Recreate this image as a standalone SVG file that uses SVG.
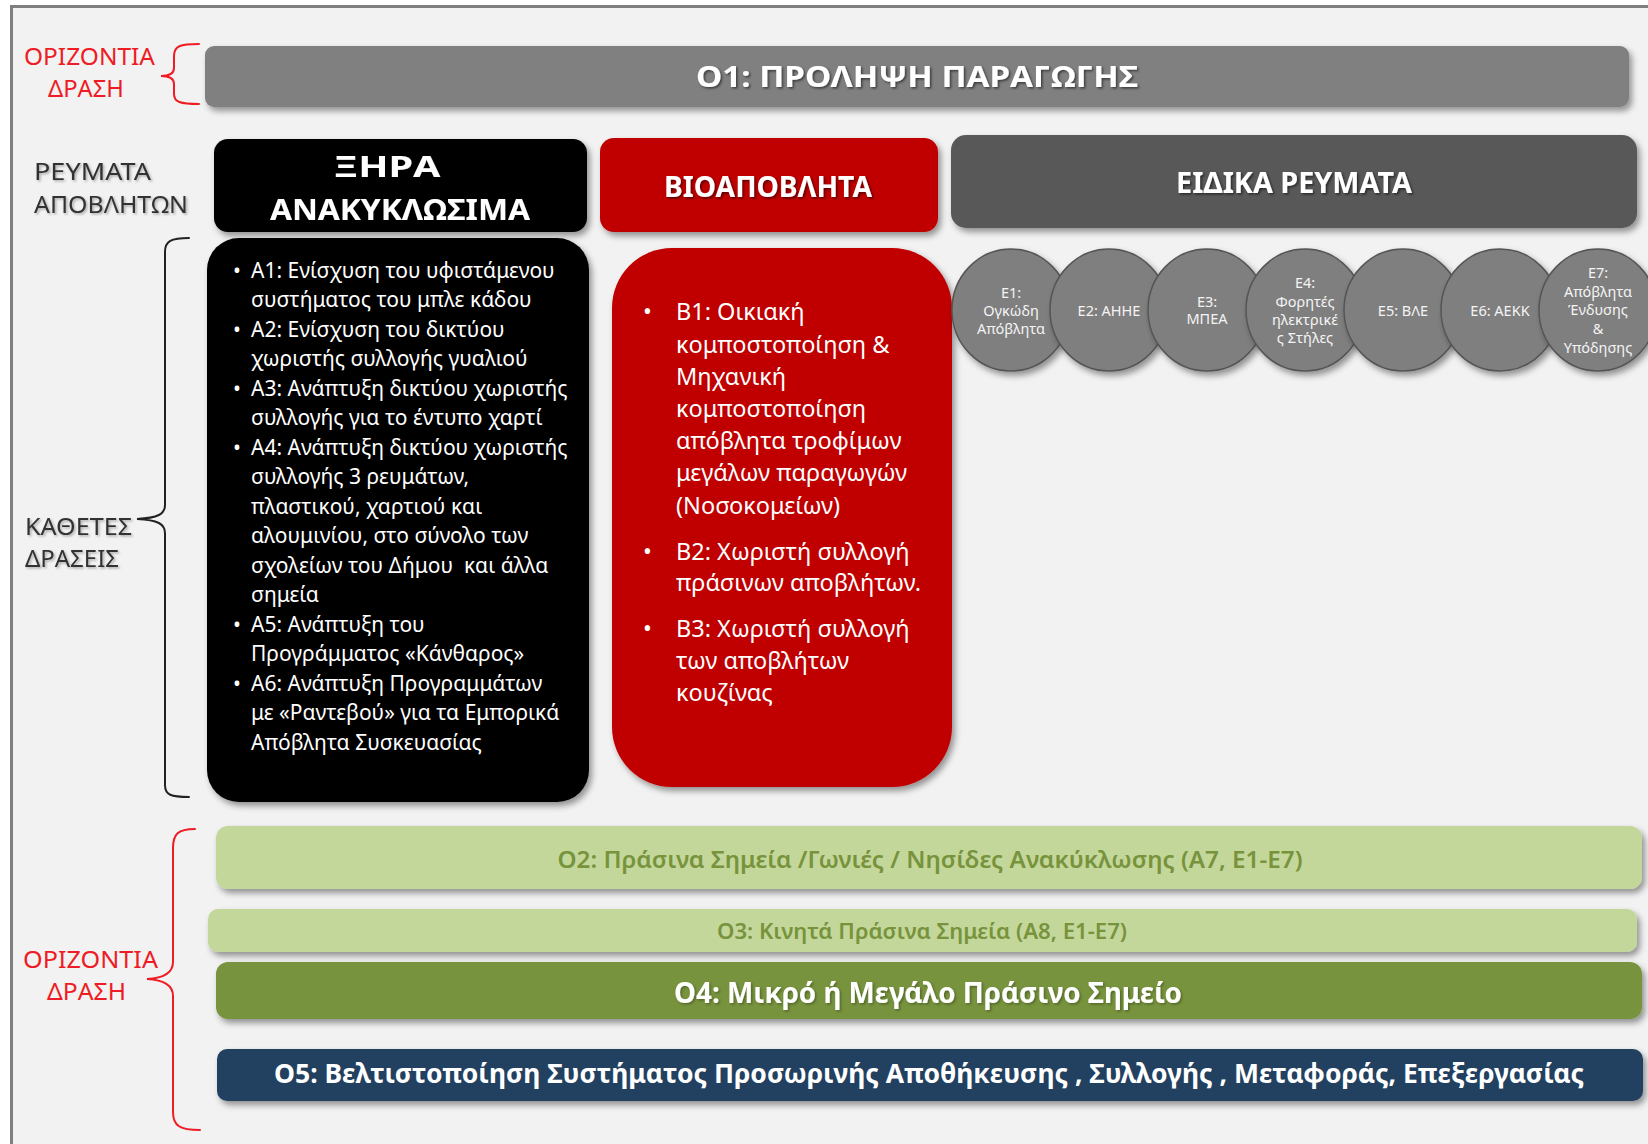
<svg xmlns="http://www.w3.org/2000/svg" width="1648" height="1144" viewBox="0 0 1648 1144">
<defs>
<filter id="sh" x="-10%" y="-20%" width="120%" height="150%">
<feDropShadow dx="3" dy="4" stdDeviation="3" flood-color="#000" flood-opacity="0.4"/>
</filter>
<filter id="tsh" x="-5%" y="-30%" width="110%" height="160%">
<feDropShadow dx="1.5" dy="1.5" stdDeviation="1" flood-color="#000" flood-opacity="0.55"/>
</filter>
<filter id="lsh" x="-5%" y="-30%" width="110%" height="160%">
<feDropShadow dx="1.5" dy="1.5" stdDeviation="1" flood-color="#000" flood-opacity="0.3"/>
</filter>
<style>
text{font-family:"Noto Sans","Open Sans","DejaVu Sans",sans-serif}
.side{font-size:24px;fill:#ee1c25}
.dark{font-size:24px;fill:#333;filter:url(#lsh)}
.head{font-size:29px;font-weight:bold;fill:#fff;text-anchor:middle;filter:url(#tsh)}
.body{font-size:21px;fill:#fff}
.bodyb{font-size:23.5px;fill:#fff}
.circ{font-size:14.5px;fill:#f4f4f4;text-anchor:middle}
.bar{text-anchor:middle}
.brace{fill:none;stroke-width:2;stroke-linecap:round}
</style>
</defs>
<rect x="0" y="0" width="1648" height="1144" fill="#fff"/>
<rect x="11.5" y="6.5" width="1700" height="1200" fill="#f2f2f2" stroke="#7f7f7f" stroke-width="3"/>

<g id="labels">
<text class="side" x="24" y="65" textLength="131" lengthAdjust="spacingAndGlyphs">ΟΡΙΖΟΝΤΙΑ</text>
<text class="side" x="48" y="97" textLength="76" lengthAdjust="spacingAndGlyphs">ΔΡΑΣΗ</text>
<text class="dark" x="34" y="180" textLength="117" lengthAdjust="spacingAndGlyphs">ΡΕΥΜΑΤΑ</text>
<text class="dark" x="34" y="213" textLength="154" lengthAdjust="spacingAndGlyphs">ΑΠΟΒΛΗΤΩΝ</text>
<text class="dark" x="25" y="535" textLength="107" lengthAdjust="spacingAndGlyphs">ΚΑΘΕΤΕΣ</text>
<text class="dark" x="25" y="567" textLength="94" lengthAdjust="spacingAndGlyphs">ΔΡΑΣΕΙΣ</text>
<text class="side" x="23" y="968" textLength="135" lengthAdjust="spacingAndGlyphs">ΟΡΙΖΟΝΤΙΑ</text>
<text class="side" x="47" y="1000" textLength="79" lengthAdjust="spacingAndGlyphs">ΔΡΑΣΗ</text>
</g>

<g id="connectors">
<path class="brace" stroke="#ee1c25" d="M199,44 C180,44 174,46 174,56 L174,68 C174,73 170,76 161,76 C170,76 174,79 174,84 L174,94 C174,102 180,104 199,104"/>
<path class="brace" stroke="#222" d="M189,238 C171,238 165,241 165,252 L165,505 C165,514 158,518 137,519 C158,520 165,524 165,533 L165,785 C165,795 171,797 189,797"/>
<path class="brace" stroke="#ee1c25" d="M195,829 C178,829 173,834 173,848 L173,962 C173,972 166,978 147,979 C166,980 173,986 173,996 L173,1112 C173,1126 180,1130 200,1130"/>
</g>

<g id="o1">
<rect x="205" y="46" width="1424" height="61" rx="9" fill="#808080" filter="url(#sh)"/>
<text class="head" x="917" y="87" font-size="30" textLength="442" lengthAdjust="spacingAndGlyphs">O1: ΠΡΟΛΗΨΗ ΠΑΡΑΓΩΓΗΣ</text>
</g>

<g id="xira">
<rect x="214" y="139" width="373" height="93" rx="14" fill="#000" filter="url(#sh)"/>
<text class="head" x="387" y="177" textLength="107" lengthAdjust="spacingAndGlyphs">ΞΗΡΑ</text>
<text class="head" x="400" y="220" textLength="260" lengthAdjust="spacingAndGlyphs">ΑΝΑΚΥΚΛΩΣΙΜΑ</text>
</g>

<g id="bio">
<rect x="600" y="138" width="338" height="94" rx="14" fill="#c00000" filter="url(#sh)"/>
<text class="head" x="768" y="197" font-size="28" textLength="208" lengthAdjust="spacingAndGlyphs">ΒΙΟΑΠΟΒΛΗΤΑ</text>
</g>

<g id="eidika">
<rect x="951" y="135" width="686" height="93" rx="15" fill="#595959" filter="url(#sh)"/>
<text class="head" x="1294" y="193" font-size="28" textLength="236" lengthAdjust="spacingAndGlyphs">ΕΙΔΙΚΑ ΡΕΥΜΑΤΑ</text>
</g>

<g id="a-actions">
<rect x="207" y="238" width="382" height="564" rx="32" fill="#000" filter="url(#sh)"/>
<g class="body">
<text x="233" y="277.5">•</text><text x="251" y="277.5">A1: Ενίσχυση του υφιστάμενου</text>
<text x="251" y="307">συστήματος του μπλε κάδου</text>
<text x="233" y="336.5">•</text><text x="251" y="336.5">A2: Ενίσχυση του δικτύου</text>
<text x="251" y="366">χωριστής συλλογής γυαλιού</text>
<text x="233" y="395.5">•</text><text x="251" y="395.5">A3: Ανάπτυξη δικτύου χωριστής</text>
<text x="251" y="425">συλλογής για το έντυπο χαρτί</text>
<text x="233" y="454.5">•</text><text x="251" y="454.5">A4: Ανάπτυξη δικτύου χωριστής</text>
<text x="251" y="484">συλλογής 3 ρευμάτων,</text>
<text x="251" y="513.5">πλαστικού, χαρτιού και</text>
<text x="251" y="543">αλουμινίου, στο σύνολο των</text>
<text x="251" y="572.5" xml:space="preserve">σχολείων του Δήμου  και άλλα</text>
<text x="251" y="602">σημεία</text>
<text x="233" y="631.5">•</text><text x="251" y="631.5">A5: Ανάπτυξη του</text>
<text x="251" y="661">Προγράμματος «Κάνθαρος»</text>
<text x="233" y="690.5">•</text><text x="251" y="690.5">A6: Ανάπτυξη Προγραμμάτων</text>
<text x="251" y="720">με «Ραντεβού» για τα Εμπορικά</text>
<text x="251" y="749.5">Απόβλητα Συσκευασίας</text>
</g>
</g>

<g id="b-actions">
<rect x="612" y="248" width="340" height="539" rx="60" fill="#c00000" filter="url(#sh)"/>
<g class="bodyb">
<text x="643" y="320">•</text><text x="676" y="320">B1: Οικιακή</text>
<text x="676" y="352.5">κομποστοποίηση &amp;</text>
<text x="676" y="385">Μηχανική</text>
<text x="676" y="417">κομποστοποίηση</text>
<text x="676" y="449">απόβλητα τροφίμων</text>
<text x="676" y="481">μεγάλων παραγωγών</text>
<text x="676" y="513.5">(Νοσοκομείων)</text>
<text x="643" y="559.5">•</text><text x="676" y="559.5">B2: Χωριστή συλλογή</text>
<text x="676" y="591">πράσινων αποβλήτων.</text>
<text x="643" y="636.5">•</text><text x="676" y="636.5">B3: Χωριστή συλλογή</text>
<text x="676" y="668.5">των αποβλήτων</text>
<text x="676" y="700.5">κουζίνας</text>
</g>
</g>

<g id="e1"><ellipse cx="1011" cy="310" rx="59" ry="61" fill="#7f7f7f" stroke="#555" stroke-width="1.5" filter="url(#sh)"/>
<text class="circ" x="1011" y="298">E1:</text><text class="circ" x="1011" y="316">Ογκώδη</text><text class="circ" x="1011" y="334">Απόβλητα</text></g>
<g id="e2"><ellipse cx="1109" cy="310" rx="59" ry="61" fill="#7f7f7f" stroke="#555" stroke-width="1.5" filter="url(#sh)"/>
<text class="circ" x="1109" y="316">E2: ΑΗΗΕ</text></g>
<g id="e3"><ellipse cx="1207" cy="310" rx="59" ry="61" fill="#7f7f7f" stroke="#555" stroke-width="1.5" filter="url(#sh)"/>
<text class="circ" x="1207" y="307">E3:</text><text class="circ" x="1207" y="324">ΜΠΕΑ</text></g>
<g id="e4"><ellipse cx="1305" cy="310" rx="59" ry="61" fill="#7f7f7f" stroke="#555" stroke-width="1.5" filter="url(#sh)"/>
<text class="circ" x="1305" y="288">E4:</text><text class="circ" x="1305" y="307">Φορητές</text><text class="circ" x="1305" y="325">ηλεκτρικέ</text><text class="circ" x="1305" y="343">ς Στήλες</text></g>
<g id="e5"><ellipse cx="1403" cy="310" rx="59" ry="61" fill="#7f7f7f" stroke="#555" stroke-width="1.5" filter="url(#sh)"/>
<text class="circ" x="1403" y="316">E5: ΒΛΕ</text></g>
<g id="e6"><ellipse cx="1500" cy="310" rx="59" ry="61" fill="#7f7f7f" stroke="#555" stroke-width="1.5" filter="url(#sh)"/>
<text class="circ" x="1500" y="316">E6: ΑΕΚΚ</text></g>
<g id="e7"><ellipse cx="1598" cy="310" rx="59" ry="61" fill="#7f7f7f" stroke="#555" stroke-width="1.5" filter="url(#sh)"/>
<text class="circ" x="1598" y="278">E7:</text><text class="circ" x="1598" y="297">Απόβλητα</text><text class="circ" x="1598" y="315">Ένδυσης</text><text class="circ" x="1598" y="334">&amp;</text><text class="circ" x="1598" y="353">Υπόδησης</text></g>

<g id="o2">
<rect x="216" y="826" width="1426" height="63" rx="12" fill="#c4d79b" filter="url(#sh)"/>
<text class="bar" x="930" y="868" font-size="23" font-weight="600" fill="#77933c" textLength="745" lengthAdjust="spacingAndGlyphs">O2: Πράσινα Σημεία /Γωνιές / Νησίδες Ανακύκλωσης (A7, E1-E7)</text>
</g>
<g id="o3">
<rect x="208" y="909" width="1429" height="43" rx="10" fill="#c4d79b" filter="url(#sh)"/>
<text class="bar" x="922" y="939" font-size="21" font-weight="600" fill="#77933c" textLength="410" lengthAdjust="spacingAndGlyphs">O3: Κινητά Πράσινα Σημεία (A8, E1-E7)</text>
</g>
<g id="o4">
<rect x="216" y="962" width="1426" height="57" rx="12" fill="#77933c" filter="url(#sh)"/>
<text class="bar" x="928" y="1003" font-size="28" font-weight="bold" fill="#fff" textLength="508" lengthAdjust="spacingAndGlyphs" filter="url(#lsh)">O4: Μικρό ή Μεγάλο Πράσινο Σημείο</text>
</g>
<g id="o5">
<rect x="217" y="1049" width="1426" height="52" rx="10" fill="#243f60" filter="url(#sh)"/>
<text class="bar" x="929" y="1083" font-size="26" font-weight="bold" fill="#fff" textLength="1310" lengthAdjust="spacingAndGlyphs">O5: Βελτιστοποίηση Συστήματος Προσωρινής Αποθήκευσης , Συλλογής , Μεταφοράς, Επεξεργασίας</text>
</g>
</svg>
